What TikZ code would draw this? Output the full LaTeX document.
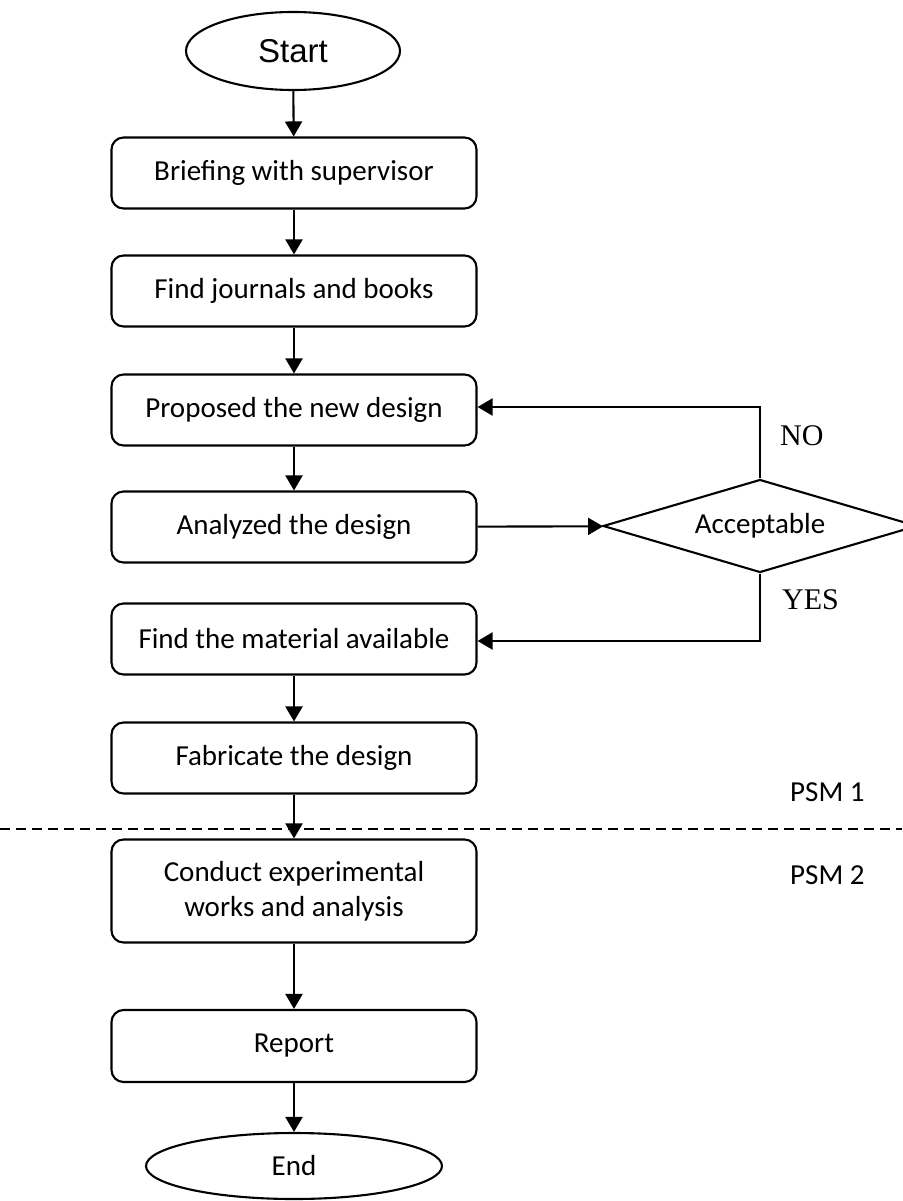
\documentclass[tikz,border=0pt]{standalone}
\usepackage{fontspec}
\setmainfont{Carlito}
\newfontfamily\arialf{Liberation Sans}
\newfontfamily\timesf{Liberation Serif}
\usetikzlibrary{shapes.geometric,arrows.meta}
\begin{document}
\begin{tikzpicture}[x=1pt,y=-1pt,
  every node/.style={font=\fontsize{29}{35}\selectfont},
  box/.style={draw,line width=2.1pt,rounded corners=12pt,minimum width=365pt,minimum height=71pt,inner sep=0pt,align=center},
  term/.style={draw,line width=2.1pt,ellipse,inner sep=0pt},
  conn/.style={line width=2.1pt,-{Triangle[length=15pt,width=17pt]}},
  lbl/.style={anchor=west,inner sep=0pt}]
\useasboundingbox (0,0) rectangle (902,1201);
\node[term,minimum width=214pt,minimum height=78pt,font=\arialf\fontsize{33}{40}\selectfont] (start) at (293,51) {Start};
\node[box] (brief) at (294,173) {Briefing with supervisor};
\node[box] (journ) at (294,291) {Find journals and books};
\node[box] (prop) at (294,410) {Proposed the new design};
\node[box] (anal) at (294,527) {Analyzed the design};
\node[box] (mat) at (294,639) {Find the material available};
\node[box] (fab) at (294,758) {Fabricate the design};
\node[box,minimum height=103pt] (cond) at (294,891) {Conduct experimental\\works and analysis};
\node[box,minimum height=72pt] (rep) at (294,1046) {Report};
\node[term,minimum width=296pt,minimum height=66pt] (end) at (294,1166) {End};
\node[draw,line width=2.1pt,diamond,aspect=3.4,minimum width=314pt,minimum height=93pt,inner sep=0pt] (acc) at (760,526) {Acceptable};
\draw[line width=1.6pt,dash pattern=on 10pt off 6pt] (0,829) coordinate (dl) -- (902,829) coordinate (dr);
\draw[conn] (start) -- (brief);
\draw[conn] (brief) -- (journ);
\draw[conn] (journ) -- (prop);
\draw[conn] (prop) -- (anal);
\draw[conn] (mat) -- (fab);
\draw[conn] (fab) -- (cond);
\draw[conn] (cond) -- (rep);
\draw[conn] (rep) -- (end);
\draw[conn] (anal) -- (acc);
\draw[conn] (acc.north) |- ([yshift=3pt]prop.east);
\draw[conn] (acc.south) |- ([yshift=-2pt]mat.east);
\node[lbl,font=\timesf\fontsize{30}{36}\selectfont] (no) at (780,436) {NO};
\node[lbl,font=\timesf\fontsize{30}{36}\selectfont] (yes) at (782,600) {YES};
\node[lbl] (psm1) at (790,792) {PSM 1};
\node[lbl] (psm2) at (790,875) {PSM 2};
\end{tikzpicture}
\end{document}
